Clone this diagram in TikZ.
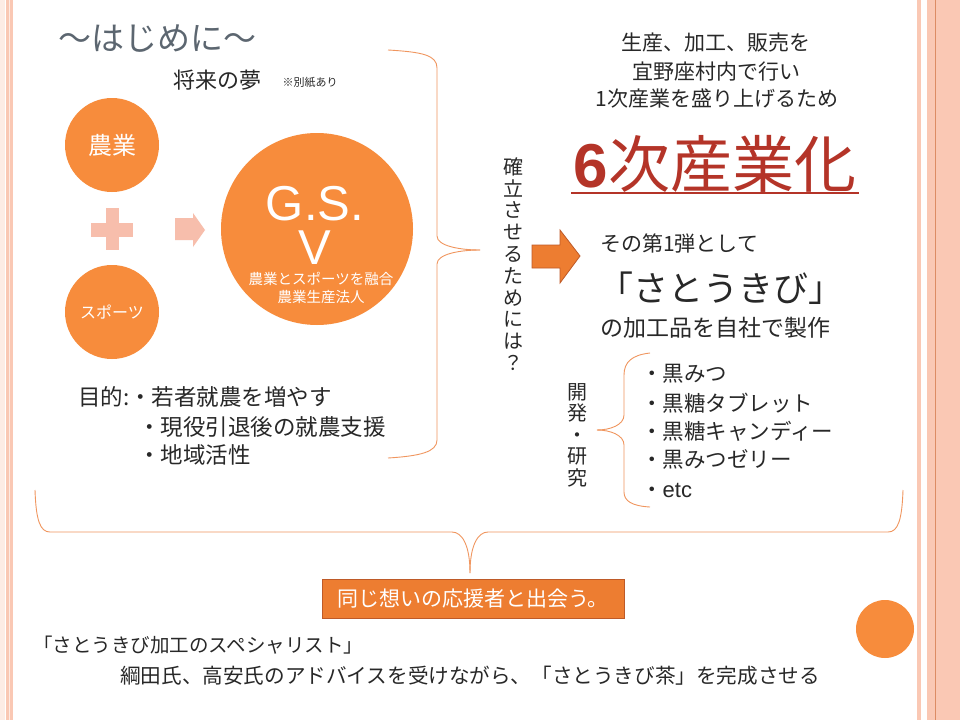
\documentclass[tikz,border=0pt]{standalone}
\usepackage{fontspec}
\setmainfont{Noto Sans CJK JP}
\newfontfamily\arialfont{Liberation Sans}
\newcommand{\fsz}[1]{\fontsize{#1}{#1}\selectfont}
\definecolor{inktext}{RGB}{40,40,40}
\definecolor{titlegray}{RGB}{92,102,112}
\definecolor{discorange}{RGB}{247,140,60}
\definecolor{boxorange}{RGB}{237,125,49}
\definecolor{boxedge}{RGB}{190,90,40}
\definecolor{paleorange}{RGB}{247,190,172}
\definecolor{braceorange}{RGB}{240,150,95}
\definecolor{sixred}{RGB}{180,52,40}
\definecolor{stripepink}{RGB}{250,200,180}
\definecolor{stripedark}{RGB}{220,140,100}

\begin{document}
\begin{tikzpicture}[x=1pt,y=-1pt,
	lbl/.style={inner sep=0pt,text=inktext},
	disc/.style={circle,fill=discorange,inner sep=0pt,text=white},
	brace/.style={draw=braceorange,line width=0.9pt}]
	\useasboundingbox (0,0) rectangle (960,720);
	\fill[white] (0,0) rectangle (960,720);
	% page stripes
	\fill[stripepink!35] (0,0) rectangle (5,720);
	\fill[stripepink] (6,0) rectangle (13,720);
	\fill[stripepink!40] (8.5,0) rectangle (9.5,720);
	\fill[stripepink] (917,0) rectangle (921,720);
	\fill[stripepink] (927,0) rectangle (960,720);
	\draw[stripedark,line width=1.2pt] (935.5,0) -- (935.5,720);
	% left part
	\node[lbl,text=titlegray,font=\fsz{33}] (intro) at (157,39) {〜はじめに〜};
	\node[lbl,font=\fsz{22}] (dream) at (217,80) {将来の夢};
	\node[lbl,font=\fsz{11}] (note) at (310,82) {※別紙あり};
	\node[disc,minimum size=94pt,font=\fsz{24}] (farm) at (112,145) {農業};
	\node[disc,minimum size=94pt,font=\fsz{16}] (sport) at (112,312) {スポーツ};
	\fill[paleorange] (106,208) rectangle (119,250);
	\fill[paleorange] (91,223) rectangle (133,237);
	\fill[paleorange] (175,218) -- (193,218) -- (193,213) -- (205,230) -- (193,247) -- (193,240) -- (175,240) -- cycle;
	\node[disc,minimum size=192pt] (gsv) at (317,229) {};
	\node[lbl,text=white,align=center,font=\arialfont\fontsize{49}{44}\selectfont] (gs) at (315,225) {G.S.\\V};
	\node[lbl,text=white,font=\fsz{14.5}] (fuse) at (321,279) {農業とスポーツを融合};
	\node[lbl,text=white,font=\fsz{14.5}] (corp) at (321,297) {農業生産法人};
	\node[lbl,font=\fsz{22.5},anchor=west] (aim1) at (78,397) {目的:・若者就農を増やす};
	\node[lbl,font=\fsz{22.5},anchor=west] (aim2) at (138,427) {・現役引退後の就農支援};
	\node[lbl,font=\fsz{22.5},anchor=west] (aim3) at (138,455) {・地域活性};
	\draw[brace] (388,50) .. controls (422,52) and (437,55) .. (437,68) -- (437,236) .. controls (437,246) and (460,250) .. (480,250);
	\draw[brace] (480,250) .. controls (460,250) and (437,254) .. (437,264) -- (437,440) .. controls (437,452) and (420,456) .. (388,458);
	% middle
	\node[lbl,align=center,font=\fontsize{20}{21.8}\selectfont] (how) at (513,264) {確\\立\\さ\\せ\\る\\た\\め\\に\\は\\？};
	\fill[boxorange,draw=boxedge,line width=0.8pt] (532,245) -- (560,245) -- (560,230) -- (580,256) -- (560,283) -- (560,268) -- (532,268) -- cycle;
	% right part
	\node[lbl,font=\fsz{21}] (prod1) at (716,43) {生産、加工、販売を};
	\node[lbl,font=\fsz{21}] (prod2) at (716,72) {宜野座村内で行い};
	\node[lbl,font=\fsz{21}] (prod3) at (717,98) {1次産業を盛り上げるため};
	\node[lbl,text=sixred,font=\fsz{62}] (sixth) at (715,164) {{\arialfont\bfseries 6}次産業化};
	\draw[sixred,line width=1.6pt] (571,193) -- (859,193);
	\node[lbl,font=\fsz{21},anchor=west] (first) at (600,243) {その第1弾として};
	\node[lbl,font=\fsz{35},anchor=west] (cane) at (598,288) {「さとうきび」};
	\node[lbl,font=\fsz{23},anchor=west] (make) at (600,328) {の加工品を自社で製作};
	\node[lbl,align=center,font=\fontsize{20}{21.5}\selectfont] (dev) at (577,435) {開\\発\\・\\研\\究};
	\draw[brace] (650,353) .. controls (632,355) and (624,362) .. (624,375) -- (624,415) .. controls (624,425) and (610,430) .. (597,430);
	\draw[brace] (597,430) .. controls (610,430) and (624,435) .. (624,445) -- (624,492) .. controls (624,501) and (632,506) .. (650,507);
	\node[lbl,font=\fsz{21.5},anchor=west] (item1) at (641,374) {・黒みつ};
	\node[lbl,font=\fsz{21.5},anchor=west] (item2) at (641,403) {・黒糖タブレット};
	\node[lbl,font=\fsz{21.5},anchor=west] (item3) at (641,431) {・黒糖キャンディー};
	\node[lbl,font=\fsz{21.5},anchor=west] (item4) at (641,459) {・黒みつゼリー};
	\node[lbl,font=\fsz{21.5},anchor=west] (item5) at (641,490) {・{\arialfont\fsz{22}etc}};
	% bottom
	\draw[brace] (35,490) .. controls (36,520) and (40,532) .. (50,532) -- (452,532) .. controls (462,532) and (470,545) .. (470,573);
	\draw[brace] (470,573) .. controls (470,545) and (478,532) .. (488,532) -- (888,532) .. controls (898,532) and (902,520) .. (903,490);
	\node[fill=boxorange,draw=boxedge,line width=0.8pt,minimum width=302pt,minimum height=39pt,inner sep=0pt,text=white,font=\fsz{21}] (meet) at (473,598.5) {同じ想いの応援者と出会う。};
	\node[lbl,font=\fsz{19.5},anchor=west] (expert) at (33,645) {「さとうきび加工のスペシャリスト」};
	\node[lbl,font=\fsz{20.6},anchor=west] (advice) at (120,676) {綱田氏、高安氏のアドバイスを受けながら、「さとうきび茶」を完成させる};
	\node[disc,minimum size=58pt] (dot) at (885,629) {};
\end{tikzpicture}
\end{document}
